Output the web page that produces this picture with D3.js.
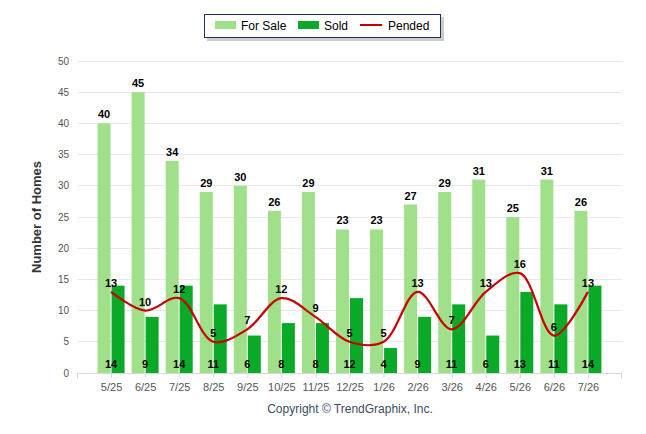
<html>
<head>
<meta charset="utf-8">
<title>Homes</title>
<script src="https://cdn.jsdelivr.net/npm/d3@7"></script>
<style>
  body { margin: 0; background: #fff; }
  text { font-family: "Liberation Sans", Arial, sans-serif; }
</style>
</head>
<body>
<script>
var months = ["5/25","6/25","7/25","8/25","9/25","10/25","11/25","12/25","1/26","2/26","3/26","4/26","5/26","6/26","7/26"];
var forSale = [40,45,34,29,30,26,29,23,23,27,29,31,25,31,26];
var sold = [14,9,14,11,6,8,8,12,4,9,11,6,13,11,14];
var pended = [13,10,12,5,7,12,9,5,5,13,7,13,16,6,13];
var yTicks = [0,5,10,15,20,25,30,35,40,45,50];

var svg = d3.select("body").append("svg")
    .attr("width", 646)
    .attr("height", 434);

var x = d3.scalePoint().domain(months).range([77, 622]).padding(1);
var y = d3.scaleLinear().domain([0, 50]).range([373, 61]);
var barW = 13;

// grid
svg.append("g").selectAll("line").data(yTicks).enter().append("line")
    .attr("x1", 77).attr("x2", 622)
    .attr("y1", function(d) { return y(d); })
    .attr("y2", function(d) { return y(d); })
    .attr("stroke", function(d) { return d == 0 ? "#d8d8d8" : "#e8e8e8"; })
    .attr("stroke-width", 1)
    .attr("shape-rendering", "crispEdges");

// y labels
svg.append("g").selectAll("text").data(yTicks).enter().append("text")
    .attr("x", 69)
    .attr("y", function(d) { return y(d) + 3.5; })
    .attr("text-anchor", "end")
    .attr("font-size", 10)
    .attr("fill", "#555")
    .text(function(d) { return d; });

// x axis
var xAxis = d3.axisBottom(x).tickSize(5).tickPadding(5);
var gx = svg.append("g")
    .attr("transform", "translate(0,373)")
    .call(xAxis);
gx.select(".domain").remove();
gx.selectAll("line").attr("stroke", "#d8d8d8");
gx.selectAll("text").attr("font-size", 11).attr("fill", "#555")
    .attr("font-family", "'Liberation Sans', Arial, sans-serif");
svg.append("line").attr("x1", 77.5).attr("x2", 77.5).attr("y1", 373).attr("y2", 378)
    .attr("stroke", "#d8d8d8");
svg.append("line").attr("x1", 621.5).attr("x2", 621.5).attr("y1", 373).attr("y2", 378)
    .attr("stroke", "#d8d8d8");

// bars
svg.append("g").selectAll("rect").data(forSale).enter().append("rect")
    .attr("x", function(d, i) { return x(months[i]) - barW - 0.5; })
    .attr("y", function(d) { return y(d); })
    .attr("width", barW)
    .attr("height", function(d) { return y(0) - y(d); })
    .attr("fill", "#a0e08b");

svg.append("g").selectAll("rect").data(sold).enter().append("rect")
    .attr("x", function(d, i) { return x(months[i]) + 0.5; })
    .attr("y", function(d) { return y(d); })
    .attr("width", barW)
    .attr("height", function(d) { return y(0) - y(d); })
    .attr("fill", "#0aaa28");

// pended line
var line = d3.line()
    .x(function(d, i) { return x(months[i]); })
    .y(function(d) { return y(d); })
    .curve(d3.curveCatmullRom.alpha(0.5));
svg.append("path")
    .attr("d", line(pended))
    .attr("fill", "none")
    .attr("stroke", "#c80000")
    .attr("stroke-width", 2.2);

// data labels
svg.append("g").selectAll("text").data(forSale).enter().append("text")
    .attr("x", function(d, i) { return x(months[i]) - barW / 2 - 0.5; })
    .attr("y", function(d) { return y(d) - 5; })
    .attr("text-anchor", "middle")
    .attr("font-size", 11).attr("font-weight", "bold").attr("fill", "#000")
    .text(function(d) { return d; });

// sold labels sit at the category centre near the base
svg.append("g").selectAll("text").data(sold).enter().append("text")
    .attr("x", function(d, i) { return x(months[i]); })
    .attr("y", 368)
    .attr("text-anchor", "middle")
    .attr("font-size", 11).attr("font-weight", "bold").attr("fill", "#000")
    .text(function(d) { return d; });

svg.append("g").selectAll("text").data(pended).enter().append("text")
    .attr("x", function(d, i) { return x(months[i]); })
    .attr("y", function(d) { return y(d) - 5; })
    .attr("text-anchor", "middle")
    .attr("font-size", 11).attr("font-weight", "bold").attr("fill", "#000")
    .text(function(d) { return d; });

// y title
svg.append("text")
    .attr("transform", "translate(41,217) rotate(-90)")
    .attr("text-anchor", "middle")
    .attr("font-size", 13).attr("font-weight", "bold").attr("fill", "#333")
    .text("Number of Homes");

// legend
var lg = svg.append("g");
lg.append("rect").attr("x", 207).attr("y", 17).attr("width", 237).attr("height", 24)
    .attr("fill", "#999").attr("opacity", 0.5);
lg.append("rect").attr("x", 204.5).attr("y", 14.5).attr("width", 236).attr("height", 23)
    .attr("fill", "#fff").attr("stroke", "#1f3260").attr("stroke-width", 1);
lg.append("rect").attr("x", 215).attr("y", 21).attr("width", 21).attr("height", 8).attr("fill", "#a0e08b");
lg.append("text").attr("x", 241).attr("y", 30).attr("font-size", 12).attr("fill", "#000").text("For Sale");
lg.append("rect").attr("x", 298).attr("y", 21).attr("width", 21).attr("height", 8).attr("fill", "#0aaa28");
lg.append("text").attr("x", 324).attr("y", 30).attr("font-size", 12).attr("fill", "#000").text("Sold");
lg.append("line").attr("x1", 360).attr("x2", 382).attr("y1", 25).attr("y2", 25)
    .attr("stroke", "#c80000").attr("stroke-width", 2);
lg.append("text").attr("x", 388).attr("y", 30).attr("font-size", 12).attr("fill", "#000").text("Pended");

// footer
svg.append("text")
    .attr("x", 350).attr("y", 413)
    .attr("text-anchor", "middle")
    .attr("font-size", 12).attr("fill", "#3d4b66")
    .text("Copyright \u00a9 TrendGraphix, Inc.");
</script>
</body>
</html>
